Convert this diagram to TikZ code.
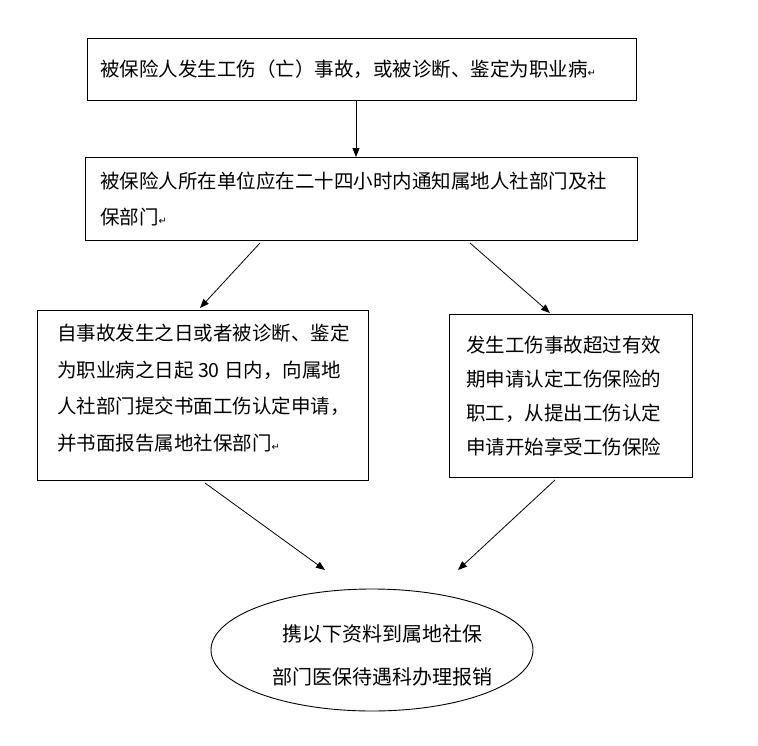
\documentclass[tikz,border=0pt]{standalone}
\usepackage{fontspec}
\newfontfamily\cjk{Noto Sans CJK SC}
\newfontfamily\sym{DejaVu Sans}
\usetikzlibrary{arrows.meta,shapes.geometric}
\newcommand{\parmk}{{\sym\fontsize{10}{10}\selectfont ↵}}
\begin{document}
\begin{tikzpicture}[x=1pt,y=-1pt,
  box/.style={draw,line width=0.9pt},
  txt/.style={font=\cjk\fontsize{19.5}{36}\selectfont,inner sep=0pt,align=left},
  arr/.style={line width=0.8pt,-{Triangle[length=9pt,width=7pt]}}]
\useasboundingbox[fill=white] (0,0) rectangle (758,745);
\draw[box] (87,38) rectangle (636,100);
\node[txt,anchor=west] (t1) at (100,69) {被保险人发生工伤（亡）事故，或被诊断、鉴定为职业病\parmk};
\draw[box] (85,157) rectangle (637,240);
\node[txt,anchor=north west] (t2) at (100,172) {被保险人所在单位应在二十四小时内通知属地人社部门及社\\保部门\parmk};
\draw[box] (37,310) rectangle (368,480);
\node[txt,anchor=north west,font=\cjk\fontsize{19.5}{36.5}\selectfont] (t3) at (57,324) {自事故发生之日或者被诊断、鉴定\\为职业病之日起 30 日内，向属地\\人社部门提交书面工伤认定申请，\\并书面报告属地社保部门\parmk};
\draw[box] (449,314) rectangle (692,477);
\node[txt,anchor=north west,font=\cjk\fontsize{19.5}{34}\selectfont] (t4) at (466,336) {发生工伤事故超过有效\\期申请认定工伤保险的\\职工，从提出工伤认定\\申请开始享受工伤保险};
\node[draw,line width=0.9pt,ellipse,minimum width=322pt,minimum height=122pt] (e) at (372,650) {};
\node[txt,align=center,font=\cjk\fontsize{20}{43}\selectfont] (t5) at (382,655) {携以下资料到属地社保\\部门医保待遇科办理报销};
\coordinate (a1) at (356,100); \coordinate (b1) at (356,157);
\coordinate (a2) at (260,243); \coordinate (b2) at (200,308);
\coordinate (a3) at (470,243); \coordinate (b3) at (550,313);
\coordinate (a4) at (205,483); \coordinate (b4) at (325,570);
\coordinate (a5) at (555,480); \coordinate (b5) at (458,570);
\draw[arr] (a1) -- (b1);
\draw[arr] (a2) -- (b2);
\draw[arr] (a3) -- (b3);
\draw[arr] (a4) -- (b4);
\draw[arr] (a5) -- (b5);
\end{tikzpicture}
\end{document}
